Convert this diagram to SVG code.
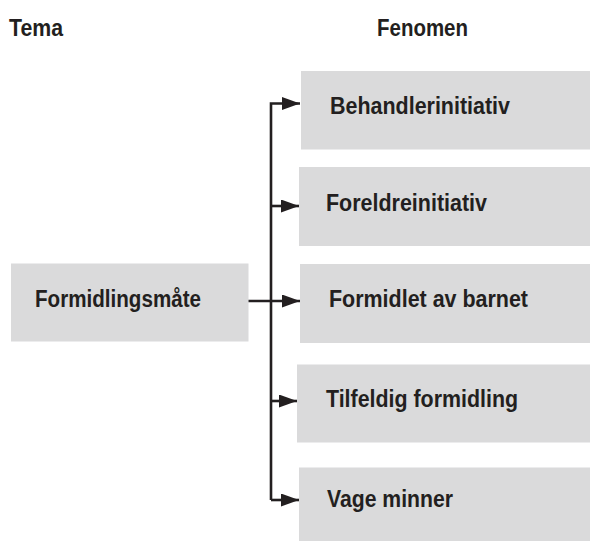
<svg xmlns="http://www.w3.org/2000/svg" width="591" height="541" viewBox="0 0 591 541">
  <defs>
    <style>
      .box { fill: #dadadb; }
      .lbl { font-family: "Liberation Sans", Arial, sans-serif; font-weight: bold; font-size: 23px; fill: #231f20; }
      .head { font-size: 24px; }
      .wire { fill: none; stroke: #231f20; stroke-width: 2.6; stroke-linejoin: miter; }
    </style>
    <marker id="head" viewBox="0 0 18 13" refX="18" refY="6.5" markerWidth="18" markerHeight="13" markerUnits="userSpaceOnUse" orient="auto">
      <path d="M0,0 L18,6.5 L0,13 Z" fill="#231f20"/>
    </marker>
  </defs>

  <rect width="591" height="541" fill="#ffffff"/>

  <!-- column headings -->
  <text class="lbl head" x="9" y="36" textLength="54" lengthAdjust="spacingAndGlyphs">Tema</text>
  <text class="lbl head" x="377" y="36" textLength="91" lengthAdjust="spacingAndGlyphs">Fenomen</text>

  <!-- theme -->
  <g id="formidlingsmate">
    <rect class="box" x="11" y="263.5" width="237.5" height="78"/>
    <text class="lbl" x="35" y="306.5" textLength="166" lengthAdjust="spacingAndGlyphs">Formidlingsmåte</text>
  </g>

  <!-- phenomena -->
  <g id="behandlerinitiativ">
    <rect class="box" x="301" y="71" width="289" height="78.5"/>
    <text class="lbl" x="330" y="114" textLength="180" lengthAdjust="spacingAndGlyphs">Behandlerinitiativ</text>
  </g>
  <g id="foreldreinitiativ">
    <rect class="box" x="299" y="167" width="291" height="79"/>
    <text class="lbl" x="326" y="210.5" textLength="161" lengthAdjust="spacingAndGlyphs">Foreldreinitiativ</text>
  </g>
  <g id="formidlet-av-barnet">
    <rect class="box" x="300" y="264" width="290" height="79"/>
    <text class="lbl" x="329" y="307" textLength="199" lengthAdjust="spacingAndGlyphs">Formidlet av barnet</text>
  </g>
  <g id="tilfeldig-formidling">
    <rect class="box" x="297" y="364.5" width="293" height="78"/>
    <text class="lbl" x="326" y="406.5" textLength="192" lengthAdjust="spacingAndGlyphs">Tilfeldig formidling</text>
  </g>
  <g id="vage-minner">
    <rect class="box" x="299" y="467.5" width="291" height="73.5"/>
    <text class="lbl" x="327" y="507" textLength="126" lengthAdjust="spacingAndGlyphs">Vage minner</text>
  </g>

  <!-- connectors: trunk with branches into each phenomenon -->
  <g id="connectors">
    <path class="wire" d="M271,500 L271,103.5 L300,103.5" marker-end="url(#head)"/>
    <path class="wire" d="M271,206 L299,206" marker-end="url(#head)"/>
    <path class="wire" d="M248.5,301 L300,301" marker-end="url(#head)"/>
    <path class="wire" d="M271,401 L297,401" marker-end="url(#head)"/>
    <path class="wire" d="M271,500 L299,500" marker-end="url(#head)"/>
  </g>
</svg>
